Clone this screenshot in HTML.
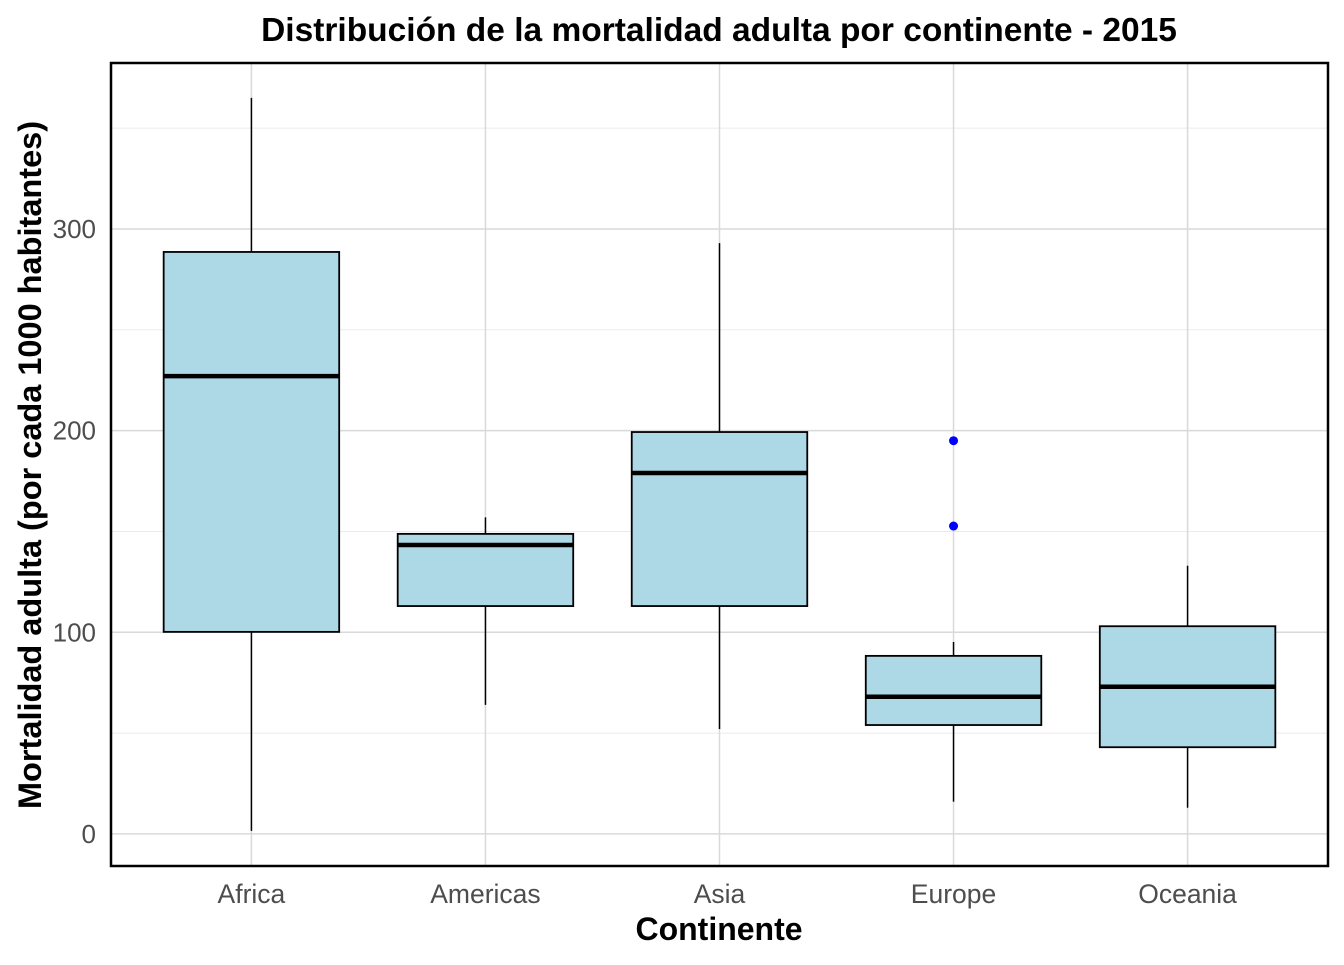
<!DOCTYPE html>
<html><head><meta charset="utf-8"><style>
body{margin:0;background:#fff;font-family:"Liberation Sans",Arial,sans-serif}
</style></head><body>
<svg id="chart" width="1344" height="960" xmlns="http://www.w3.org/2000/svg" font-family="Liberation Sans, Arial, sans-serif"></svg>
<script>
const categories=["Africa","Americas","Asia","Europe","Oceania"];
const whiskerLow=[1.5,64,52,16,13];
const q1=[100.2,113,113,54,43];
const median=[227,143.3,179,68,73];
const q3=[288.6,148.8,199.3,88.3,103];
const whiskerHigh=[365,157,293,95.2,133];
const outliers=[[],[],[],[195,152.7],[]];
const yTicks=[0,100,200,300];
const yMinor=[50,150,250,350];

const L=111,R=1328,T=63,B=866,yMin=-15.9,yMax=382.3;
const svg=document.getElementById('chart');
const NS="http://www.w3.org/2000/svg";
function y(v){return B-(v-yMin)/(yMax-yMin)*(B-T);}
const step=(R-L)/(categories.length-1+1.2);
function x(i){return L+step*(i+0.6);}
function el(tag,attrs,parent){const e=document.createElementNS(NS,tag);for(const k in attrs)e.setAttribute(k,attrs[k]);(parent||svg).appendChild(e);return e;}

yMinor.forEach(v=>{const g=el('line',{x1:L,x2:R,y1:y(v),y2:y(v),stroke:'#ebebeb','stroke-width':1});

});
yTicks.forEach(v=>{const g=el('line',{x1:L,x2:R,y1:y(v),y2:y(v),stroke:'#d9d9d9','stroke-width':1.5});


const t=el('text',{x:96,y:y(v)+9,'text-anchor':'end','font-size':26,fill:'#4d4d4d'});t.textContent=v;

});
categories.forEach((c,i)=>{const g=el('line',{x1:x(i),x2:x(i),y1:T,y2:B,stroke:'#d9d9d9','stroke-width':1.5});


const t=el('text',{x:x(i),y:903,'text-anchor':'middle','font-size':26.5,fill:'#4d4d4d'});t.textContent=c;

});

const bw=step*0.75;
categories.forEach((c,i)=>{
 const g=el('g',{});
 
 
 el('line',{x1:x(i),x2:x(i),y1:y(whiskerHigh[i]),y2:y(q3[i]),stroke:'#000','stroke-width':1.5},g);
 el('line',{x1:x(i),x2:x(i),y1:y(q1[i]),y2:y(whiskerLow[i]),stroke:'#000','stroke-width':1.5},g);
 el('rect',{x:x(i)-bw/2,y:y(q3[i]),width:bw,height:y(q1[i])-y(q3[i]),fill:'#add8e6',stroke:'#000','stroke-width':1.8},g);
 el('line',{x1:x(i)-bw/2,x2:x(i)+bw/2,y1:y(median[i]),y2:y(median[i]),stroke:'#000','stroke-width':4.5},g);
 outliers[i].forEach(o=>{const p=el('circle',{cx:x(i),cy:y(o),r:4.5,fill:'#0000ff'},g);
  
  });
});
const border=el('rect',{x:L,y:T,width:R-L,height:B-T,fill:'none',stroke:'#000','stroke-width':2.5});


const title=el('text',{x:719,y:41,'text-anchor':'middle','font-size':33.5,'font-weight':'bold'});
title.textContent='Distribución de la mortalidad adulta por continente - 2015';


const xt=el('text',{x:719,y:940,'text-anchor':'middle','font-size':32,'font-weight':'bold'});
xt.textContent='Continente';


const yt=el('text',{x:0,y:0,'text-anchor':'middle','font-size':32.5,'font-weight':'bold',transform:'translate(41,465) rotate(-90)'});
yt.textContent='Mortalidad adulta (por cada 1000 habitantes)';


</script>
</body></html>
